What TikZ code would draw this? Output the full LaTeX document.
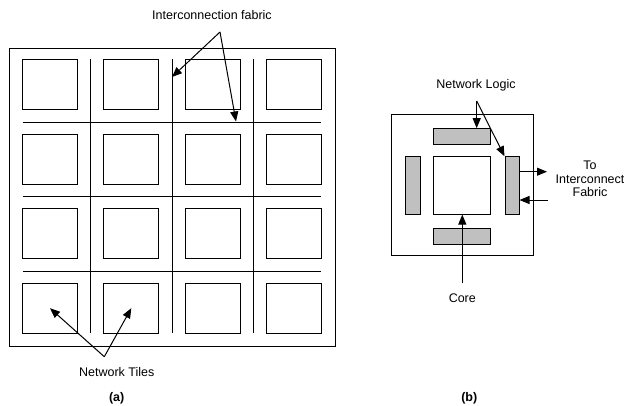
\documentclass[tikz,border=0pt]{standalone}
\usepackage{fontspec}
\setsansfont{Liberation Sans}
\usetikzlibrary{arrows.meta}
\definecolor{logic_gray}{HTML}{C0C0C0}

\begin{document}
\begin{tikzpicture}[
    x=1pt, y=-1pt,
    tile/.style={draw, line width=1pt, minimum width=55pt, minimum height=50pt, inner sep=0pt},
    logic/.style={draw, line width=1pt, fill=logic_gray, inner sep=0pt},
    lbl/.style={font=\sffamily\fontsize{12.5}{13.5}\selectfont, inner sep=0pt},
    pointer/.style={line width=1pt, -{Triangle[length=10pt, width=8pt]}}
]
\useasboundingbox (0,0) rectangle (624,405);

% ---------------------------------------------------------------
%  (a) 4 x 4 array of network tiles on an interconnection fabric
%      tile pitch: 81.3 (x), 74.5 (y)
% ---------------------------------------------------------------

\node[draw, line width=1pt, minimum width=326pt, minimum height=298pt] (chip) at (172,197) {};

% ---- Tiles ----
\foreach \r in {1,...,4}
  \foreach \c in {1,...,4}
    \node[tile] (t\r\c) at ({50+81.3*(\c-1)}, {84.7+74.5*(\r-1)}) {};

% ---- Fabric lines between the tiles ----
\foreach \xv in {90.6, 172, 253.3}
  \draw[line width=1pt] (\xv,59.3) -- (\xv,333.3);
\foreach \yh in {122, 196.5, 271}
  \draw[line width=1pt] (22.7,\yh) -- (321,\yh);

% ---- Labels and pointers ----
\node[lbl, anchor=base] (fablbl) at (212,19) {Interconnection fabric};
\coordinate (fabfork) at (220,32);
\coordinate (fabv)    at (172,77);
\coordinate (fabh)    at (236,121.5);
\draw[pointer] (fabfork) -- (fabv);
\draw[pointer] (fabfork) -- (fabh);

\node[lbl, anchor=base] (tilelbl) at (116.7,376) {Network Tiles};
\coordinate (tilefork) at (104.3,356.7);
\draw[pointer] (tilefork) -- (t41.center);
\draw[pointer] (tilefork) -- (t42.center);

\node[lbl, font=\sffamily\bfseries\fontsize{12.5}{13.5}\selectfont] (capa) at (116.7,398) {(a)};

% ---------------------------------------------------------------
%  (b) One tile: core surrounded by network logic
% ---------------------------------------------------------------

\node[draw, line width=1pt, minimum width=141.6pt, minimum height=141.7pt] (tileb) at (462.5,184.9) {};
\node[draw, line width=1pt, minimum width=57.4pt, minimum height=57.3pt, inner sep=0pt] (core) at (462,185.4) {};

\node[logic, minimum width=57.4pt, minimum height=16pt]   (topbar)   at (462,136.7) {};
\node[logic, minimum width=57.4pt, minimum height=15.7pt] (botbar)   at (462,236.2) {};
\node[logic, minimum width=15pt,   minimum height=57.3pt] (leftbar)  at (412.8,185.4) {};
\node[logic, minimum width=14pt,   minimum height=57.3pt] (rightbar) at (512,185.4) {};

% ---- Network logic pointers ----
\node[lbl, anchor=base] (nllbl) at (476,88) {Network Logic};
\coordinate (nlfork) at (476.7,101);
\draw[pointer] (nlfork) -- (topbar.north -| nlfork);
\draw[pointer] (nlfork) -- (rightbar.north west);

% ---- Links to the fabric ----
\node[lbl, align=center] (fablbl2) at (590,179) {To\\Interconnect\\Fabric};
\coordinate (outend) at (547,171.7);
\coordinate (instart) at (548,200);
\draw[pointer] (rightbar.east |- outend) -- (outend);
\draw[pointer] (instart) -- (rightbar.east |- instart);

% ---- Core pointer ----
\node[lbl, anchor=base] (corelbl) at (462.3,302) {Core};
\coordinate (corefoot) at (462.3,283.3);
\draw[pointer] (corefoot) -- (core.south -| corefoot);

\node[lbl, font=\sffamily\bfseries\fontsize{12.5}{13.5}\selectfont] (capb) at (469.3,398) {(b)};

\end{tikzpicture}
\end{document}
